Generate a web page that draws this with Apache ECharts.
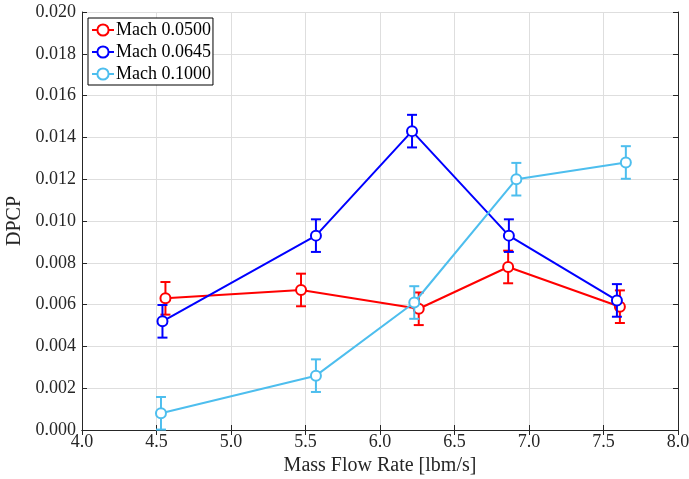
<!DOCTYPE html>
<html><head><meta charset="utf-8">
<script src="https://cdn.jsdelivr.net/npm/echarts@6/dist/echarts.min.js"></script>
<style>html,body{margin:0;padding:0;background:#fff}#c{width:689px;height:479px}</style>
</head><body><div id="c"></div>
<script>
const seriesNames = ['Mach 0.0500', 'Mach 0.0645', 'Mach 0.1000'];
const xRed = [4.56, 5.47, 6.26, 6.86, 7.61];
const yRed = [0.0063, 0.0067, 0.0058, 0.0078, 0.0059];
const eRed = [0.00078, 0.00078, 0.00078, 0.00078, 0.00078];
const xBlue = [4.54, 5.57, 6.215, 6.865, 7.59];
const yBlue = [0.0052, 0.0093, 0.0143, 0.0093, 0.0062];
const eBlue = [0.00078, 0.00078, 0.00078, 0.00078, 0.00078];
const xLight = [4.53, 5.57, 6.23, 6.915, 7.65];
const yLight = [0.0008, 0.0026, 0.0061, 0.0120, 0.0128];
const eLight = [0.00078, 0.00078, 0.00078, 0.00078, 0.00078];
const xTicks = [4.0, 4.5, 5.0, 5.5, 6.0, 6.5, 7.0, 7.5, 8.0];
const yTicks = [0.000, 0.002, 0.004, 0.006, 0.008, 0.010, 0.012, 0.014, 0.016, 0.018, 0.020];

const colors = ['#ff0000', '#0000ff', '#4dbeee'];
const xs = [xRed, xBlue, xLight], ys = [yRed, yBlue, yLight], es = [eRed, eBlue, eLight];
const FONT = 'Liberation Serif';
const axisColor = '#262626';

const series = [];
for (let k = 0; k < 3; k++) {
  const color = colors[k];
  series.push({
    type: 'custom', name: seriesNames[k] + ' err', z: 2 + 2 * k,
    data: xs[k].map((x, i) => [x, ys[k][i], es[k][i]]),
    renderItem: function (params, api) {
      const x = api.value(0), y = api.value(1), e = api.value(2);
      const p1 = api.coord([x, y + e]), p2 = api.coord([x, y - e]);
      const hw = 5;
      const st = { stroke: color, lineWidth: 2 };
      return { type: 'group', children: [
        { type: 'line', shape: { x1: p1[0], y1: p1[1], x2: p2[0], y2: p2[1] }, style: st },
        { type: 'line', shape: { x1: p1[0] - hw, y1: p1[1], x2: p1[0] + hw, y2: p1[1] }, style: st },
        { type: 'line', shape: { x1: p2[0] - hw, y1: p2[1], x2: p2[0] + hw, y2: p2[1] }, style: st }
      ]};
    }
  });
  series.push({
    type: 'line', name: seriesNames[k], z: 3 + 2 * k,
    data: xs[k].map((x, i) => [x, ys[k][i]]),
    symbol: 'circle', symbolSize: 10, showAllSymbol: true,
    lineStyle: { color: color, width: 2 },
    itemStyle: { color: '#fff', borderColor: color, borderWidth: 2 },
    emphasis: { disabled: true }
  });
}

const chart = echarts.init(document.getElementById('c'));
chart.setOption({
  animation: false,
  backgroundColor: '#fff',
  grid: { left: 82, right: 11, top: 12, bottom: 49, containLabel: false, outerBoundsMode: 'none' },
  legend: {
    data: seriesNames, orient: 'vertical', left: 88, top: 18,
    backgroundColor: '#fff', borderColor: '#000', borderWidth: 1, borderRadius: 0,
    padding: [3, 2, 2, 3], itemGap: 4, itemWidth: 22, itemHeight: 14,
    textStyle: { fontFamily: FONT, fontSize: 18, color: '#000', padding: [0, 0, 0, -3] }
  },
  xAxis: [{
    type: 'value', min: xTicks[0], max: xTicks[xTicks.length - 1], interval: 0.5,
    name: 'Mass Flow Rate [lbm/s]', nameLocation: 'middle', nameGap: 24,
    nameTextStyle: { fontFamily: FONT, fontSize: 20, color: axisColor },
    axisLine: { lineStyle: { color: axisColor, width: 1 } },
    axisTick: { inside: true, length: 5, lineStyle: { color: axisColor } },
    axisLabel: { fontFamily: FONT, fontSize: 18, color: axisColor, margin: 3, formatter: v => v.toFixed(1) },
    splitLine: { show: true, lineStyle: { color: '#dedede', width: 1 } }
  }, {
    type: 'value', position: 'top', min: xTicks[0], max: xTicks[xTicks.length - 1], interval: 0.5,
    axisLine: { lineStyle: { color: axisColor, width: 1 } },
    axisTick: { inside: true, length: 5, lineStyle: { color: axisColor } },
    axisLabel: { show: false }, splitLine: { show: false }
  }],
  yAxis: [{
    type: 'value', min: yTicks[0], max: yTicks[yTicks.length - 1], interval: 0.002,
    name: 'DPCP', nameLocation: 'middle', nameGap: 51,
    nameTextStyle: { fontFamily: FONT, fontSize: 20, color: axisColor },
    axisLine: { show: true, lineStyle: { color: axisColor, width: 1 } },
    axisTick: { show: true, inside: true, length: 5, lineStyle: { color: axisColor } },
    axisLabel: { fontFamily: FONT, fontSize: 18, color: axisColor, margin: 6, formatter: v => v.toFixed(3) },
    splitLine: { show: true, lineStyle: { color: '#dedede', width: 1 } }
  }, {
    type: 'value', position: 'right', min: yTicks[0], max: yTicks[yTicks.length - 1], interval: 0.002,
    axisLine: { show: true, lineStyle: { color: axisColor, width: 1 } },
    axisTick: { show: true, inside: true, length: 5, lineStyle: { color: axisColor } },
    axisLabel: { show: false }, splitLine: { show: false }
  }],
  series: series
});
</script></body></html>
